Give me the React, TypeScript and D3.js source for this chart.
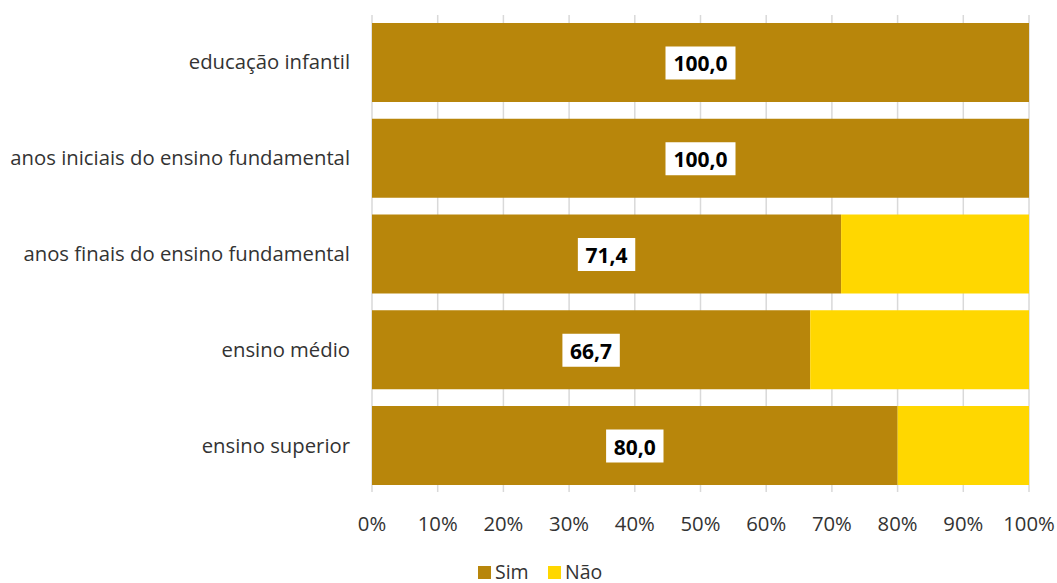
import React from "react";
import * as d3 from "d3";

const categories = [
  "educação infantil",
  "anos iniciais do ensino fundamental",
  "anos finais do ensino fundamental",
  "ensino médio",
  "ensino superior",
];
const simValues = [100.0, 100.0, 71.4, 66.7, 80.0];
const naoValues = [0.0, 0.0, 28.6, 33.3, 20.0];
const xTicks = [0, 10, 20, 30, 40, 50, 60, 70, 80, 90, 100];
const seriesNames = ["Sim", "Não"];
const colors = ["#B8860B", "#FFD700"];

const W = 1057;
const H = 583;
const FONT = "'Open Sans', 'Noto Sans', sans-serif";

export default function App() {
  const x = d3.scaleLinear().domain([0, 100]).range([372, 1029]);
  const y = d3
    .scaleBand<string>()
    .domain(categories)
    .range([14.6, 493.4])
    .paddingInner(0.175)
    .paddingOuter(0.0877);
  const fmt = (v: number) => v.toFixed(1).replace(".", ",");

  return (
    <svg width={W} height={H} style={{ position: "absolute", left: 0, top: 0, background: "#fff" }}>
      {xTicks.map((t) => (
        <line key={t} x1={x(t)} x2={x(t)} y1={15} y2={492} stroke="#d9d9d9" strokeWidth={1.5} />
      ))}
      {categories.map((c, i) => {
        const y0 = y(c)!;
        const bh = y.bandwidth();
        const xs = x(0);
        const xm = x(simValues[i]);
        const xe = x(simValues[i] + naoValues[i]);
        const label = fmt(simValues[i]);
        const cx = (xs + xm) / 2;
        const boxW = label.length * 12.6 + 7;
        return (
          <g key={c}>
            <rect x={xs} y={y0} width={xm - xs} height={bh} fill={colors[0]} />
            {naoValues[i] > 0 && <rect x={xm} y={y0} width={xe - xm} height={bh} fill={colors[1]} />}
            <rect x={cx - boxW / 2} y={y0 + bh / 2 - 16} width={boxW} height={33} fill="#fff" />
            <text x={cx} y={y0 + bh / 2 + 1} textAnchor="middle" dominantBaseline="central" fontFamily={FONT} fontWeight="bold" fontSize={21} fill="#000">
              {label}
            </text>
            <text x={350} y={y0 + bh / 2 - 1} textAnchor="end" dominantBaseline="central" fontFamily={FONT} fontSize={20.3} fill="#333">
              {c}
            </text>
          </g>
        );
      })}
      {xTicks.map((t) => (
        <text key={"l" + t} x={x(t)} y={523} textAnchor="middle" dominantBaseline="central" fontFamily={FONT} fontSize={20.3} fill="#333">
          {t}%
        </text>
      ))}
      {seriesNames.map((s, i) => {
        const lx = i === 0 ? 478 : 548;
        return (
          <g key={s}>
            <rect x={lx} y={566} width={13} height={13} fill={colors[i]} />
            <text x={lx + 17} y={571} dominantBaseline="central" fontFamily={FONT} fontSize={19.5} fill="#333">
              {s}
            </text>
          </g>
        );
      })}
    </svg>
  );
}
